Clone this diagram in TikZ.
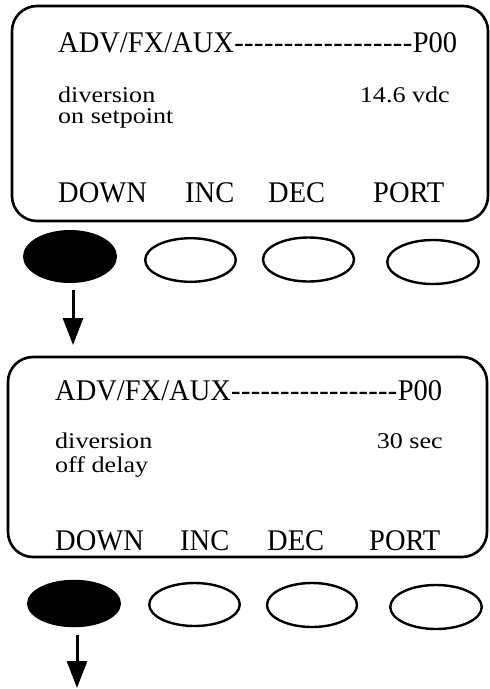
\documentclass[tikz,border=0pt]{standalone}
\usepackage{fontspec}
\newfontfamily\capfont{Liberation Serif}[FakeStretch=0.95]
\newfontfamily\lowfont{Liberation Serif}[FakeStretch=1.16]
\usetikzlibrary{shapes.geometric,arrows.meta}
\begin{document}
\begin{tikzpicture}[x=1pt,y=-1pt,
  panel/.style={draw,line width=2.6pt,rounded corners=25pt,inner sep=0pt},
  captext/.style={inner sep=0pt,font=\capfont\fontsize{30}{36}\selectfont},
  lowtext/.style={inner sep=0pt,font=\lowfont\fontsize{22.5}{26}\selectfont},
  btn/.style={ellipse,draw,line width=2.4pt,inner sep=0pt},
  pressed/.style={ellipse,fill=black,inner sep=0pt},
  arr/.style={line width=3pt,-{Triangle[length=27pt,width=20pt]}}]
\useasboundingbox (0,0) rectangle (490,689);

% panel 1
\node[panel,minimum width=476pt,minimum height=215pt] (p1) at (250,113.5) {};
\node[captext,anchor=base west] (h1) at (58,52) {\makebox[399pt]{ADV/FX/AUX\xleaders\hbox{-}\hfill P00}};
\node[lowtext,anchor=base west] (a1) at (58,102) {diversion};
\node[lowtext,anchor=base west] (b1) at (58,123) {on setpoint};
\node[lowtext,anchor=base east] (v1) at (450,102) {14.6 vdc};
\node[captext,anchor=base west] (k11) at (58,202) {DOWN};
\node[captext,anchor=base west] (k12) at (185,202) {INC};
\node[captext,anchor=base west] (k13) at (268,202) {DEC};
\node[captext,anchor=base west] (k14) at (373,202) {PORT};

\node[pressed,minimum width=94pt,minimum height=53pt] (e11) at (70,256.5) {};
\node[btn,minimum width=90.6pt,minimum height=43.6pt] (e12) at (190.5,260) {};
\node[btn,minimum width=91pt,minimum height=44pt] (e13) at (308.5,259.5) {};
\node[btn,minimum width=91.5pt,minimum height=44pt] (e14) at (433,262) {};

\coordinate (t1) at (73,345);
\draw[arr] ([xshift=3pt,yshift=-7pt]e11.south) -- (t1);

% panel 2
\node[panel,minimum width=479pt,minimum height=200pt] (p2) at (247.5,457) {};
\node[captext,anchor=base west] (h2) at (55,400) {\makebox[387pt]{ADV/FX/AUX\xleaders\hbox{-}\hfill P00}};
\node[lowtext,anchor=base west] (a2) at (55,448) {diversion};
\node[lowtext,anchor=base west] (b2) at (55,472) {off delay};
\node[lowtext,anchor=base east] (v2) at (443,448) {30 sec};
\node[captext,anchor=base west] (k21) at (55,550) {DOWN};
\node[captext,anchor=base west] (k22) at (180,550) {INC};
\node[captext,anchor=base west] (k23) at (267,550) {DEC};
\node[captext,anchor=base west] (k24) at (369,550) {PORT};

\node[pressed,minimum width=94pt,minimum height=47.5pt] (e21) at (74,603.5) {};
\node[btn,minimum width=90.5pt,minimum height=43pt] (e22) at (194.5,604.5) {};
\node[btn,minimum width=90pt,minimum height=44pt] (e23) at (312,605) {};
\node[btn,minimum width=91.5pt,minimum height=44pt] (e24) at (436,607) {};

\coordinate (t2) at (77,688);
\draw[arr] ([xshift=3pt,yshift=-8pt]e21.south) -- (t2);
\end{tikzpicture}
\end{document}
